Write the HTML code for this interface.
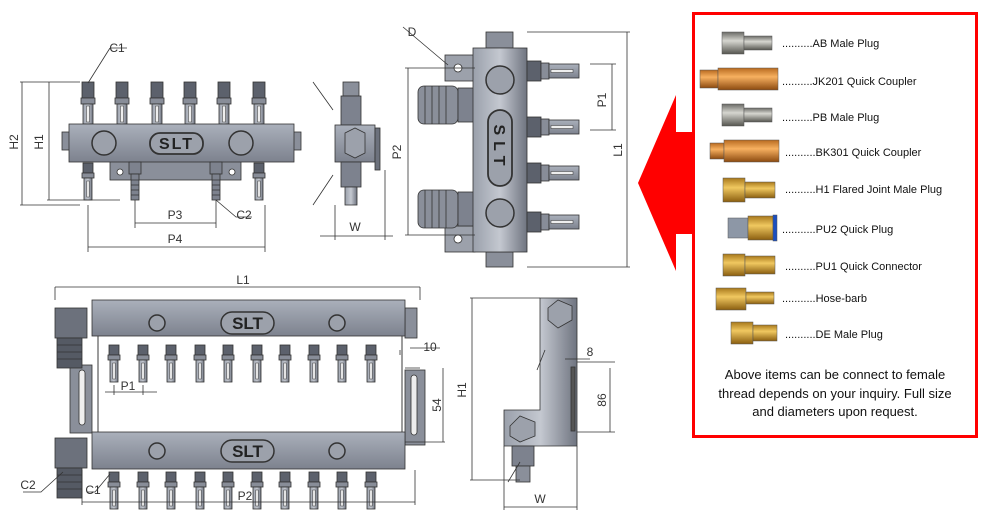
<!DOCTYPE html>
<html><head><meta charset="utf-8"><style>
html,body{margin:0;padding:0;background:#fff;}
svg{display:block;}
text{font-family:"Liberation Sans",sans-serif;}
</style></head><body>
<svg width="983" height="512" viewBox="0 0 983 512" xmlns="http://www.w3.org/2000/svg">
<defs>
<linearGradient id="g" x1="0" y1="0" x2="0" y2="1"><stop offset="0" stop-color="#aab0bb"/><stop offset="1" stop-color="#7d828e"/></linearGradient>
<linearGradient id="gv" x1="0" y1="0" x2="1" y2="0"><stop offset="0" stop-color="#9aa0ab"/><stop offset=".5" stop-color="#c4c8d0"/><stop offset="1" stop-color="#6f7480"/></linearGradient>
<linearGradient id="brass" x1="0" y1="0" x2="0" y2="1"><stop offset="0" stop-color="#a8781c"/><stop offset=".4" stop-color="#f0c860"/><stop offset="1" stop-color="#8a5e10"/></linearGradient>
<linearGradient id="copper" x1="0" y1="0" x2="0" y2="1"><stop offset="0" stop-color="#b86a20"/><stop offset=".4" stop-color="#f7b060"/><stop offset="1" stop-color="#8c4a10"/></linearGradient>
<linearGradient id="steel" x1="0" y1="0" x2="0" y2="1"><stop offset="0" stop-color="#6a6a66"/><stop offset=".4" stop-color="#d6d6d0"/><stop offset="1" stop-color="#55554f"/></linearGradient>
<g id="fitV"><rect x="-6" y="0" width="12" height="16" fill="#5c616c" stroke="#333" stroke-width=".8"/><rect x="-7" y="16" width="14" height="6" fill="#888d98" stroke="#333" stroke-width=".8"/><rect x="-5" y="22" width="10" height="20" fill="url(#gv)" stroke="#333" stroke-width=".8"/><rect x="-1.5" y="24" width="3" height="16" fill="#eee" stroke="#333" stroke-width=".5"/></g>
<g id="fitS"><rect x="-5" y="0" width="10" height="10" fill="#5c616c" stroke="#333" stroke-width=".8"/><rect x="-6" y="10" width="12" height="5" fill="#888d98" stroke="#333" stroke-width=".8"/><rect x="-4" y="15" width="8" height="22" fill="url(#gv)" stroke="#333" stroke-width=".8"/><rect x="-1.2" y="18" width="2.4" height="16" fill="#eee" stroke="#333" stroke-width=".5"/></g>
<g id="fitH"><rect x="0" y="-10" width="14" height="20" fill="#5c616c" stroke="#333" stroke-width=".8"/><rect x="14" y="-8" width="8" height="16" fill="#888d98" stroke="#333" stroke-width=".8"/><rect x="22" y="-7" width="30" height="14" fill="url(#g)" stroke="#333" stroke-width=".8"/><rect x="24" y="-1.5" width="22" height="3" fill="#eee" stroke="#333" stroke-width=".5"/></g>
</defs>
<g stroke="#333" stroke-width=".8" fill="none">
<!-- top-left view -->
<use href="#fitV" x="88" y="82"/><use href="#fitV" x="122" y="82"/><use href="#fitV" x="157" y="82"/><use href="#fitV" x="190" y="82"/><use href="#fitV" x="224" y="82"/><use href="#fitV" x="259" y="82"/>
<rect x="110" y="160" width="131" height="20" fill="#8a8f9a"/>
<circle cx="120" cy="172" r="3" fill="#fff"/><circle cx="232" cy="172" r="3" fill="#fff"/>
<rect x="62" y="132" width="8" height="18" fill="#8a8f9a"/><rect x="293" y="132" width="8" height="18" fill="#8a8f9a"/>
<rect x="69" y="124" width="225" height="38" fill="url(#g)"/>
<circle cx="104" cy="143" r="12" fill="#9ca1ab" stroke-width="1.5"/><circle cx="241" cy="143" r="12" fill="#9ca1ab" stroke-width="1.5"/>
<rect x="150" y="133" width="53" height="21" rx="10" fill="#9ca1ab" stroke-width="1.8"/>
<text x="176.5" y="149" font-size="16" font-weight="bold" fill="#222" stroke="none" text-anchor="middle" letter-spacing="2">SLT</text>
<use href="#fitS" x="88" y="163"/><use href="#fitS" x="259" y="163"/>
<g fill="#7d828e"><rect x="129" y="162" width="12" height="12"/><rect x="131" y="174" width="8" height="26"/><rect x="210" y="162" width="12" height="12"/><rect x="212" y="174" width="8" height="26"/></g>
<path d="M131 180h8M131 185h8M131 190h8M131 195h8M212 180h8M212 185h8M212 190h8M212 195h8"/>
<path d="M20 82H80M20 205H80M22 82V205M47 82H80M47 200H120M49 82V200M135 200V228M216 200V228M135 223H216M88 205V252M265 205V252M88 247H265M110 48l-22 35M110 48h17M216 200l20 17h16"/>
<!-- middle side view -->
<rect x="343" y="82" width="16" height="14" fill="#8a8f9a"/><rect x="341" y="96" width="20" height="29" fill="#7d828e"/>
<rect x="335" y="125" width="40" height="37" fill="url(#g)"/><polygon points="345,133 355,128 365,133 365,153 355,158 345,153" fill="#9ca1ab"/>
<rect x="375" y="128" width="5" height="42" fill="#6c717c"/>
<rect x="341" y="162" width="20" height="25" fill="#7d828e"/><rect x="345" y="187" width="12" height="18" fill="url(#gv)"/>
<path d="M313 82l20 28M313 205l20-30M335 205V240M385 170V240M320 236H393"/>
<!-- top-right view -->
<rect x="486" y="32" width="27" height="16" fill="#8a8f9a"/><rect x="486" y="252" width="27" height="15" fill="#8a8f9a"/>
<rect x="445" y="55" width="30" height="26" fill="#9ca1ab"/><circle cx="458" cy="68" r="4" fill="#fff"/>
<rect x="445" y="226" width="30" height="26" fill="#9ca1ab"/><circle cx="458" cy="239" r="4" fill="#fff"/>
<rect x="418" y="86" width="40" height="38" rx="6" fill="#8a8f9a"/><rect x="458" y="88" width="16" height="34" fill="#7d828e"/>
<rect x="418" y="190" width="40" height="38" rx="6" fill="#8a8f9a"/><rect x="458" y="192" width="16" height="34" fill="#7d828e"/>
<path d="M425 86v38M432 86v38M439 86v38M446 86v38M425 190v38M432 190v38M439 190v38M446 190v38"/>
<rect x="473" y="48" width="54" height="204" fill="url(#gv)"/>
<circle cx="500" cy="80" r="14" fill="#9ca1ab" stroke-width="1.5"/><circle cx="500" cy="213" r="14" fill="#9ca1ab" stroke-width="1.5"/>
<rect x="488" y="110" width="24" height="76" rx="12" fill="#9ca1ab" stroke-width="1.8"/>
<text x="0" y="6" font-size="16" font-weight="bold" fill="#222" stroke="none" text-anchor="middle" letter-spacing="6" transform="translate(500,148) rotate(90)">SLT</text>
<use href="#fitH" x="527" y="71"/><use href="#fitH" x="527" y="127"/><use href="#fitH" x="527" y="173"/><use href="#fitH" x="527" y="222"/>
<path d="M405 68H475M405 235H475M408 68V235M527 32H630M527 267H630M627 32V267M590 64H616M590 130H616M612 64V130M403 27l45 38"/>
<!-- bottom-left view -->
<rect x="70" y="365" width="22" height="68" fill="#8a8f9a"/><rect x="79" y="370" width="6" height="55" rx="3" fill="#eee"/>
<rect x="405" y="370" width="20" height="75" fill="#8a8f9a"/><rect x="411" y="375" width="6" height="60" rx="3" fill="#eee"/>
<rect x="55" y="308" width="32" height="30" fill="#6c717c"/><rect x="57" y="338" width="25" height="30" fill="#555a64"/>
<path d="M57 345h25M57 352h25M57 359h25"/>
<rect x="55" y="438" width="32" height="30" fill="#6c717c"/><rect x="57" y="468" width="25" height="30" fill="#555a64"/>
<path d="M57 475h25M57 482h25M57 489h25"/>
<rect x="405" y="308" width="12" height="30" fill="#8a8f9a"/>
<rect x="98" y="330" width="304" height="105" fill="#fff"/>
<rect x="92" y="300" width="313" height="36" fill="url(#g)"/>
<rect x="92" y="432" width="313" height="37" fill="url(#g)"/>
<path d="M98 336V432M402 336V432"/>
<g stroke-width="1.5" fill="#9ca1ab"><circle cx="157" cy="323" r="8"/><circle cx="337" cy="323" r="8"/><circle cx="157" cy="451" r="8"/><circle cx="337" cy="451" r="8"/>
<rect x="221" y="312" width="53" height="22" rx="11"/><rect x="221" y="440" width="53" height="22" rx="11"/></g>
<text x="247.5" y="329" font-size="17" font-weight="bold" fill="#222" stroke="none" text-anchor="middle">SLT</text>
<text x="247.5" y="457" font-size="17" font-weight="bold" fill="#222" stroke="none" text-anchor="middle">SLT</text>
<use href="#fitS" x="114" y="345"/><use href="#fitS" x="143" y="345"/><use href="#fitS" x="171" y="345"/><use href="#fitS" x="200" y="345"/><use href="#fitS" x="228" y="345"/><use href="#fitS" x="257" y="345"/><use href="#fitS" x="285" y="345"/><use href="#fitS" x="314" y="345"/><use href="#fitS" x="342" y="345"/><use href="#fitS" x="371" y="345"/>
<use href="#fitS" x="114" y="472"/><use href="#fitS" x="143" y="472"/><use href="#fitS" x="171" y="472"/><use href="#fitS" x="200" y="472"/><use href="#fitS" x="228" y="472"/><use href="#fitS" x="257" y="472"/><use href="#fitS" x="285" y="472"/><use href="#fitS" x="314" y="472"/><use href="#fitS" x="342" y="472"/><use href="#fitS" x="371" y="472"/>
<path d="M55 287V300M420 287V300M55 287H420M82 470V505M415 470V505M82 502H415M114 385V395M143 385V395M105 392H157M405 368H420M405 442H445M443 368V442M400 350V355M410 348H440M23 492h18l22-20M87 492h8l15-18"/>
<!-- bottom side view -->
<path d="M540 298H577V446H504V410H540Z" fill="url(#gv)"/>
<polygon points="548,308 558,300 572,306 572,320 558,328 548,320" fill="#9ca1ab"/>
<polygon points="510,434 520,424 535,430 535,444 520,450 510,444" fill="#9ca1ab" transform="translate(0,-8)"/>
<rect x="571" y="367" width="4" height="64" fill="#555"/>
<rect x="512" y="446" width="22" height="20" fill="#7d828e"/><rect x="516" y="466" width="14" height="16" fill="#8a8f9a"/>
<path d="M470 298H540M470 480H520M472 298V480M504 446V510M577 446V510M504 507H577M545 350l-8 20M520 462l-12 20M565 359H590M577 362H615M577 432H615M610 368V432"/>
</g>
<g font-size="12" fill="#333" text-anchor="middle">
<text x="117" y="52">C1</text><text x="18" y="142" transform="rotate(-90 18 142)">H2</text><text x="43" y="142" transform="rotate(-90 43 142)">H1</text>
<text x="175" y="219">P3</text><text x="175" y="243">P4</text><text x="244" y="219">C2</text>
<text x="355" y="231">W</text><text x="412" y="36">D</text>
<text x="401" y="152" transform="rotate(-90 401 152)">P2</text><text x="606" y="100" transform="rotate(-90 606 100)">P1</text><text x="622" y="150" transform="rotate(-90 622 150)">L1</text>
<text x="243" y="284">L1</text><text x="128" y="390">P1</text><text x="430" y="351">10</text><text x="441" y="405" transform="rotate(-90 441 405)">54</text>
<text x="28" y="489">C2</text><text x="93" y="494">C1</text><text x="245" y="500">P2</text>
<text x="466" y="390" transform="rotate(-90 466 390)">H1</text><text x="540" y="503">W</text><text x="590" y="356">8</text><text x="606" y="400" transform="rotate(-90 606 400)">86</text>
</g>
<!-- red arrow -->
<polygon points="638,183 676,95 676,132 693,132 693,234 676,234 676,271" fill="#ff0000"/>
<!-- red box -->
<rect x="693.5" y="13.5" width="283" height="423" fill="#fff" stroke="#ff0000" stroke-width="3"/>
<g stroke="#555" stroke-width=".5">
<rect x="722" y="32" width="22" height="22" fill="url(#steel)"/><rect x="744" y="36" width="28" height="14" fill="url(#steel)"/>
<rect x="700" y="70" width="18" height="18" fill="url(#copper)"/><rect x="718" y="68" width="60" height="22" fill="url(#copper)"/>
<rect x="722" y="104" width="22" height="22" fill="url(#steel)"/><rect x="744" y="108" width="28" height="14" fill="url(#steel)"/>
<rect x="710" y="143" width="14" height="16" fill="url(#copper)"/><rect x="724" y="140" width="55" height="22" fill="url(#copper)"/>
<rect x="723" y="178" width="22" height="24" fill="url(#brass)"/><rect x="745" y="182" width="30" height="16" fill="url(#brass)"/>
<rect x="728" y="218" width="20" height="20" fill="#8d97a6"/><rect x="748" y="216" width="25" height="24" fill="url(#brass)"/><rect x="773" y="215" width="4" height="26" fill="#1b4fc0"/>
<rect x="723" y="254" width="22" height="22" fill="url(#brass)"/><rect x="745" y="256" width="30" height="18" fill="url(#brass)"/>
<rect x="716" y="288" width="30" height="22" fill="url(#brass)"/><rect x="746" y="292" width="28" height="12" fill="url(#brass)"/>
<rect x="731" y="322" width="22" height="22" fill="url(#brass)"/><rect x="753" y="325" width="24" height="16" fill="url(#brass)"/>
</g>
<g font-family="'Liberation Sans',sans-serif" font-size="11" fill="#111">
<text x="782" y="47">..........AB  Male Plug</text>
<text x="782" y="85">..........JK201  Quick Coupler</text>
<text x="782" y="121">..........PB  Male Plug</text>
<text x="785" y="156">..........BK301  Quick Coupler</text>
<text x="785" y="193">..........H1  Flared Joint Male Plug</text>
<text x="782" y="233">...........PU2  Quick Plug</text>
<text x="785" y="270">..........PU1  Quick Connector</text>
<text x="782" y="302">...........Hose-barb</text>
<text x="785" y="338">..........DE  Male Plug</text>
</g>
<g font-size="13" fill="#111" text-anchor="middle">
<text x="835" y="379">Above items can be connect to female</text>
<text x="835" y="398">thread depends on your inquiry.  Full size</text>
<text x="835" y="416">and diameters upon request.</text>
</g>
</svg>
</body></html>
